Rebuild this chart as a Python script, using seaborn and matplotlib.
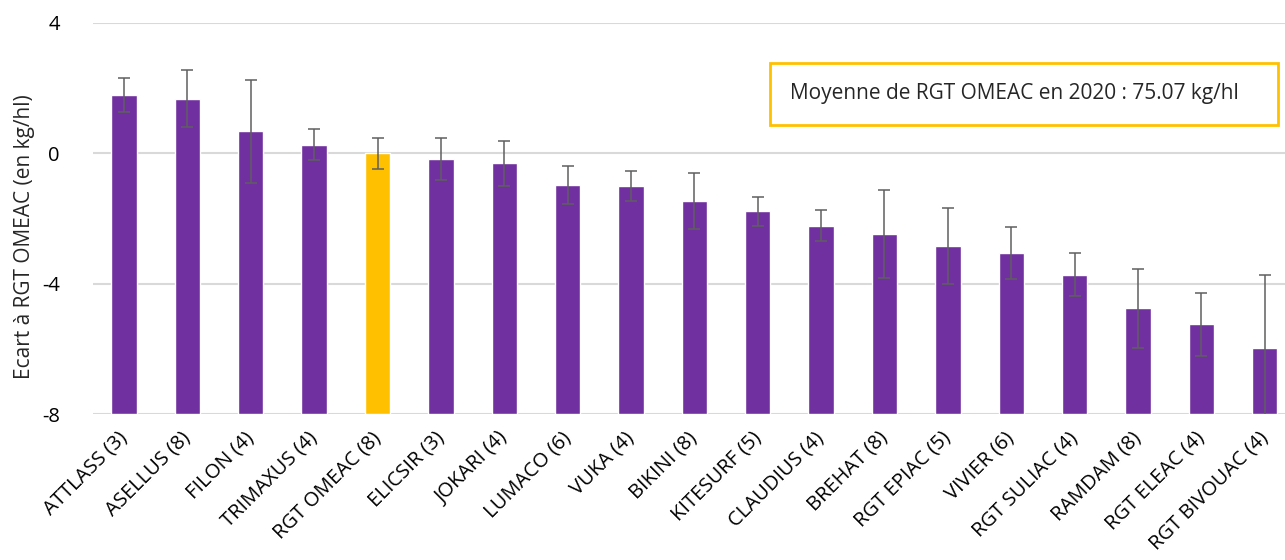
import matplotlib
matplotlib.use("Agg")
import matplotlib.pyplot as plt
import matplotlib.patches as mpatches
import pandas as pd
import seaborn as sns

# data
varietes = ["ATTLASS (3)", "ASELLUS (8)", "FILON (4)", "TRIMAXUS (4)", "RGT OMEAC (8)",
            "ELICSIR (3)", "JOKARI (4)", "LUMACO (6)", "VUKA (4)", "BIKINI (8)",
            "KITESURF (5)", "CLAUDIUS (4)", "BREHAT (8)", "RGT EPIAC (5)", "VIVIER (6)",
            "RGT SULIAC (4)", "RAMDAM (8)", "RGT ELEAC (4)", "RGT BIVOUAC (4)"]
ecart = [1.79, 1.68, 0.68, 0.27, 0.0, -0.18, -0.30, -0.96, -1.00, -1.46,
         -1.78, -2.22, -2.49, -2.85, -3.06, -3.72, -4.76, -5.25, -5.97]
erreur = [0.53, 0.87, 1.58, 0.48, 0.48, 0.65, 0.69, 0.58, 0.46, 0.87,
          0.45, 0.48, 1.35, 1.17, 0.79, 0.65, 1.20, 0.96, 2.25]
temoin = "RGT OMEAC (8)"
y_ticks = [4, 0, -4, -8]
y_min, y_max = -8, 4

df = pd.DataFrame({"variete": varietes, "ecart": ecart, "erreur": erreur})

sns.set_style("white")
plt.rcParams["font.family"] = ["Open Sans", "DejaVu Sans"]
plt.rcParams["axes.unicode_minus"] = False

fig = plt.figure(figsize=(12.85, 5.6), dpi=100)
ax = fig.add_axes([93 / 1285, 1 - 414 / 560, 1192 / 1285, 391 / 560])

couleurs = ["#FFC000" if v == temoin else "#7030A0" for v in varietes]
sns.barplot(data=df, x="variete", y="ecart", hue="variete", palette=couleurs,
            saturation=1, legend=False, width=0.4, ax=ax, zorder=3)
# les barres partent du bas de l'axe (-8), comme dans Excel
for p in ax.patches:
    h = p.get_height()
    p.set_y(y_min)
    p.set_height(h - y_min)
ax.errorbar(range(len(varietes)), df["ecart"], yerr=df["erreur"], fmt="none",
            ecolor="#5f5f5f", elinewidth=1.1, capsize=4.3, capthick=1.1, zorder=4)

ax.set_ylim(y_min, y_max)
ax.set_xlim(-0.49, 18.32)
ax.set_yticks(y_ticks)
ax.yaxis.grid(True, color="#d9d9d9", linewidth=1.5, zorder=0)
ax.set_axisbelow(True)
for s in ax.spines.values():
    s.set_visible(False)
ax.tick_params(axis="both", length=0, colors="#000000")
ax.tick_params(axis="y", labelsize=14.5, pad=24)
ax.tick_params(axis="x", labelsize=14.5, pad=15)
plt.setp(ax.get_xticklabels(), rotation=45, ha="right", va="center",
         rotation_mode="anchor")
ax.set_xlabel("")
ax.set_ylabel("Ecart à RGT OMEAC (en kg/hl)", fontsize=15)
ax.yaxis.set_label_coords(-0.049, 0.453)

# encadré de la moyenne
ax.add_patch(mpatches.Rectangle((0.568, 0.739), 0.426, 0.159, transform=ax.transAxes,
                                fill=True, facecolor="white", edgecolor="#FFC000",
                                linewidth=2, zorder=5))
ax.text(0.585, 0.8185, "Moyenne de RGT OMEAC en 2020 : 75.07 kg/hl",
        transform=ax.transAxes, fontsize=15, va="center", ha="left", zorder=6)

fig.savefig("out.png", dpi=100)
